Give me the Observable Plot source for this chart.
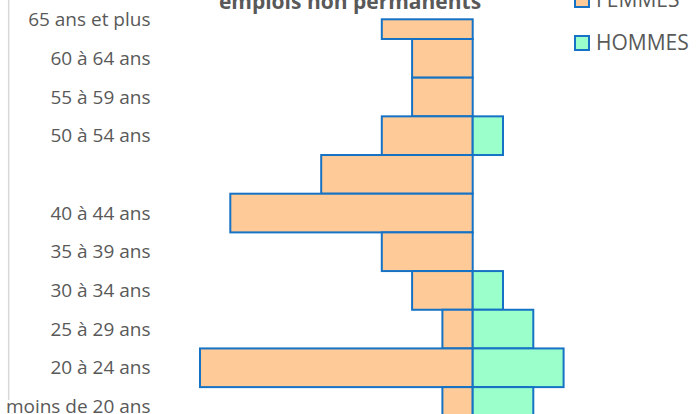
<!DOCTYPE html>
<html>
<head>
<meta charset="utf-8">
<script src="https://cdn.jsdelivr.net/npm/d3@7"></script>
<script src="https://cdn.jsdelivr.net/npm/@observablehq/plot@0.6"></script>
<style>
  html, body { margin: 0; padding: 0; background: #fff; }
  #wrap { position: relative; width: 697px; height: 414px; overflow: hidden; font-family: "Open Sans", sans-serif; }
  #wrap svg { position: absolute; left: 0; top: 0; }
</style>
</head>
<body>
<div id="wrap"></div>
<script>
// Age groups, top to bottom
const ages = ["65 ans et plus", "60 à 64 ans", "55 à 59 ans", "50 à 54 ans", "45 à 49 ans",
              "40 à 44 ans", "35 à 39 ans", "30 à 34 ans", "25 à 29 ans", "20 à 24 ans", "moins de 20 ans"];
const femmes = [3, 2, 2, 3, 5, 8, 3, 2, 1, 9, 1];
const hommes = [0, 0, 0, 1, 0, 0, 0, 1, 2, 3, 2];
// Tick labels shown (Excel skipped "45 à 49 ans")
const yTicks = ["65 ans et plus", "60 à 64 ans", "55 à 59 ans", "50 à 54 ans",
                "40 à 44 ans", "35 à 39 ans", "30 à 34 ans", "25 à 29 ans", "20 à 24 ans", "moins de 20 ans"];
const title = "emplois non permanents";
const legendLabels = ["FEMMES", "HOMMES"];

const fillF = "#FECB98", fillH = "#9BFFCB", strokeC = "#1672C4", textC = "#595959";

const rows = ages.map((a, i) => ({age: a, f: femmes[i], h: hommes[i]}));
const topAge = ages[0];

const common = {y: "age", stroke: strokeC, strokeWidth: 2};
const plot = Plot.plot({
  width: 697, height: 414,
  marginLeft: 160, marginTop: 0, marginRight: 0, marginBottom: 0,
  x: {domain: [-10, 10], range: [472.7 - 303, 472.7 + 303], axis: null},
  y: {domain: ages, range: [0.3, 425.8], padding: 0, round: false, axis: null},
  style: {fontFamily: "Open Sans, sans-serif"},
  marks: [
    Plot.axisY({anchor: "left", ticks: yTicks, tickSize: 0, tickPadding: 10, fontSize: 19, color: textC, label: null}),
    Plot.barX(rows.filter(d => d.age !== topAge), {...common, x1: d => -d.f, x2: 0, fill: fillF}),
    Plot.barX(rows.filter(d => d.age === topAge), {...common, x1: d => -d.f, x2: 0, fill: fillF, insetTop: 19}),
    Plot.barX(rows.filter(d => d.h > 0), {...common, x1: 0, x2: "h", fill: fillH})
  ]
});
document.getElementById("wrap").appendChild(plot);

const svg = d3.select(plot);
svg.selectAll("g[aria-label='y-axis tick label'] text").attr("fill", textC);
// chart border line on the left
svg.append("line").attr("x1", 8.7).attr("x2", 8.7).attr("y1", 0).attr("y2", 400)
  .attr("stroke", "#d9d9d9").attr("stroke-width", 1.5);
// title (partly cut off at the top)
svg.append("text").attr("x", 350).attr("y", 9).attr("text-anchor", "middle")
  .attr("font-size", 21).attr("font-weight", "bold").attr("fill", textC)
  .attr("font-family", "Open Sans, sans-serif").text(title);
// legend
[fillF, fillH].forEach((c, i) => {
  const yb = 7 + i * 43;
  svg.append("rect").attr("x", 575).attr("y", yb - 14).attr("width", 14).attr("height", 14)
    .attr("fill", c).attr("stroke", strokeC).attr("stroke-width", 2);
  svg.append("text").attr("x", 596).attr("y", yb).attr("font-size", 21).attr("fill", textC)
    .attr("text-anchor", "start")
    .attr("font-family", "Open Sans, sans-serif").text(legendLabels[i]);
});
</script>
</body>
</html>
